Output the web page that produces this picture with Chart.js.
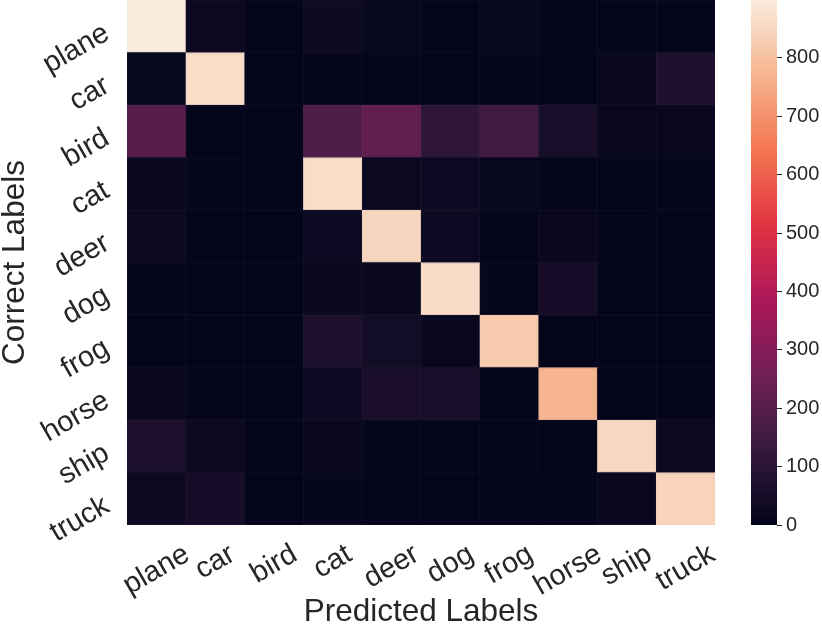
<!DOCTYPE html>
<html>
<head>
<meta charset="utf-8">
<title>Confusion matrix</title>
<script src="https://cdn.jsdelivr.net/npm/chart.js@4.4.1/dist/chart.umd.min.js"></script>
<style>
  html, body { margin: 0; padding: 0; background: #fff; }
  #wrap { position: relative; width: 822px; height: 628px; overflow: hidden; }
  #heat { position: absolute; left: 0; top: 0; width: 740px; height: 628px; }
  #cbar { position: absolute; left: 740px; top: 0; width: 82px; height: 628px; }
</style>
</head>
<body>
<div id="wrap">
  <canvas id="heat" width="740" height="628"></canvas>
  <canvas id="cbar" width="82" height="628"></canvas>
</div>
<script>
// ---- data ----
const predicted = ['plane', 'car', 'bird', 'cat', 'deer', 'dog', 'frog', 'horse', 'ship', 'truck'];
const correct   = ['plane', 'car', 'bird', 'cat', 'deer', 'dog', 'frog', 'horse', 'ship', 'truck'];

// one row per correct label, columns = predicted label
const rowPlane = [899, 22,  2,  30,  10,   3,  10,   5,   3,   6];
const rowCar   = [ 10, 866, 2,   5,   4,   3,   4,   3,  15,  72];
const rowBird  = [198,  3,  4, 188, 228, 112, 152,  55,  13,  12];
const rowCat   = [ 12,  4,  2, 866,  20,  28,  10,   5,   3,   5];
const rowDeer  = [ 25,  3,  2,  28, 848,  28,   5,  18,   4,   4];
const rowDog   = [  4,  3,  2,  18,  18, 862,   8,  48,   3,   3];
const rowFrog  = [  3,  3,  2,  68,  42,  15, 822,   2,   2,   3];
const rowHorse = [ 12,  4,  3,  28,  58,  55,   3, 771,   3,   6];
const rowShip  = [ 62, 25,  3,  12,   5,   3,   4,   3, 850,  20];
const rowTruck = [ 25, 52,  3,   8,   4,   3,   5,   4,  15, 845];
const matrix = [rowPlane, rowCar, rowBird, rowCat, rowDeer, rowDog, rowFrog, rowHorse, rowShip, rowTruck];

const cbarMax = 899;
const cbarTicks = [0, 100, 200, 300, 400, 500, 600, 700, 800];

// ---- colours (seaborn "rocket") ----
const rocketStops = [
  [0.000, [3, 5, 26]],
  [0.143, [53, 25, 62]],
  [0.286, [112, 31, 87]],
  [0.429, [173, 23, 89]],
  [0.571, [225, 51, 66]],
  [0.714, [243, 118, 81]],
  [0.857, [246, 180, 143]],
  [1.000, [250, 235, 221]]
];
const rgb = c => `rgb(${c.map(Math.round).join(',')})`;
function rocketRGB(v) {
  const t = Math.max(0, Math.min(1, v / cbarMax));
  for (let i = 1; i < rocketStops.length; i++) {
    const [t1, c1] = rocketStops[i], [t0, c0] = rocketStops[i - 1];
    if (t <= t1) {
      const f = (t - t0) / (t1 - t0);
      return c0.map((c, k) => c + (c1[k] - c) * f);
    }
  }
  return rocketStops[rocketStops.length - 1][1];
}
const rocket = v => rgb(rocketRGB(v));
// faint seam between cells: cell colour pulled a little toward grey
const seam = v => rgb(rocketRGB(v).map((c, k) => c + ([130, 130, 140][k] - c) * 0.07));

const FONT = '"Liberation Sans", Arial, Helvetica, sans-serif';
const TXT = '#262626';
const noPad = s => { s.paddingTop = 0; s.paddingBottom = 0; s.paddingLeft = 0; s.paddingRight = 0; };

// stacked bars: bottom dataset is the last row (truck)
const datasets = correct.map((name, i) => ({
  label: name,
  data: predicted.map(() => 1),
  backgroundColor: matrix[i].map(rocket),
  borderColor: matrix[i].map(seam),
  borderWidth: 1,
  borderSkipped: false
})).reverse();

// dark under-layer so half-pixel row edges don't blend with white
const underlay = {
  id: 'underlay',
  beforeDatasetsDraw(chart) {
    const { ctx, chartArea: ca } = chart;
    ctx.save();
    ctx.fillStyle = rocket(0);
    ctx.fillRect(ca.left, ca.top, ca.right - ca.left, ca.bottom - ca.top);
    ctx.restore();
  }
};

// tick labels + axis titles, placed from the chart's own scales
const labelPlugin = {
  id: 'cmLabels',
  afterDraw(chart) {
    const { ctx, chartArea, scales: { x, y } } = chart;
    const a = -Math.PI / 6;
    ctx.save();
    ctx.fillStyle = TXT;
    ctx.font = `29px ${FONT}`;
    ctx.textBaseline = 'middle';

    predicted.forEach((lab, i) => {
      const w = ctx.measureText(lab).width;
      const bh = w * 0.5 + 33 * 0.866;
      ctx.save();
      ctx.translate(x.getPixelForValue(i), chartArea.bottom + 13 + bh / 2);
      ctx.rotate(a);
      ctx.textAlign = 'center';
      ctx.fillText(lab, 0, 0);
      ctx.restore();
    });

    correct.forEach((lab, i) => {
      ctx.save();
      ctx.translate(chartArea.left - 20, y.getPixelForValue(correct.length - i - 0.5) + 5);
      ctx.rotate(a);
      ctx.textAlign = 'right';
      ctx.fillText(lab, 0, 0);
      ctx.restore();
    });

    ctx.font = `31.5px ${FONT}`;
    ctx.textBaseline = 'alphabetic';
    ctx.textAlign = 'center';
    ctx.fillText('Predicted Labels', (chartArea.left + chartArea.right) / 2, 621);
    ctx.save();
    ctx.translate(24, (chartArea.top + chartArea.bottom) / 2);
    ctx.rotate(-Math.PI / 2);
    ctx.fillText('Correct Labels', 0, 0);
    ctx.restore();
    ctx.restore();
  }
};

new Chart(document.getElementById('heat'), {
  type: 'bar',
  data: { labels: predicted, datasets },
  options: {
    responsive: false,
    animation: false,
    layout: { padding: { left: 127, right: 25, top: 0, bottom: 103 } },
    datasets: { bar: { barPercentage: 1, categoryPercentage: 1 } },
    plugins: { legend: { display: false }, tooltip: { enabled: false } },
    scales: {
      x: { display: false, stacked: true, afterFit: noPad },
      y: { display: false, stacked: true, min: 0, max: correct.length, afterFit: noPad }
    }
  },
  plugins: [underlay, labelPlugin]
});

// colour bar
const gradientPlugin = {
  id: 'cbarFill',
  beforeDatasetsDraw(chart) {
    const { ctx, chartArea, scales: { y } } = chart;
    const y0 = y.getPixelForValue(0), y1 = y.getPixelForValue(cbarMax);
    const g = ctx.createLinearGradient(0, y0, 0, y1);
    rocketStops.forEach(([t, c]) => g.addColorStop(t, rgb(c)));
    ctx.save();
    ctx.fillStyle = g;
    ctx.fillRect(chartArea.left, y1, chartArea.right - chartArea.left, y0 - y1);
    ctx.restore();
  }
};

new Chart(document.getElementById('cbar'), {
  type: 'bar',
  data: { labels: [''], datasets: [{ data: [] }] },
  options: {
    responsive: false,
    animation: false,
    layout: { padding: { left: 11, right: 0, top: 0, bottom: 103 } },
    plugins: { legend: { display: false }, tooltip: { enabled: false } },
    scales: {
      x: { display: false, afterFit: noPad },
      y: {
        position: 'right',
        min: 0,
        max: cbarMax,
        afterBuildTicks: s => { s.ticks = cbarTicks.map(v => ({ value: v })); },
        afterFit: s => { s.width = 45; noPad(s); },
        border: { display: false },
        grid: { drawOnChartArea: false, drawTicks: true, tickLength: 5, color: TXT, lineWidth: 1 },
        ticks: { color: TXT, padding: 4, font: { size: 20, family: FONT } }
      }
    }
  },
  plugins: [gradientPlugin]
});
</script>
</body>
</html>
